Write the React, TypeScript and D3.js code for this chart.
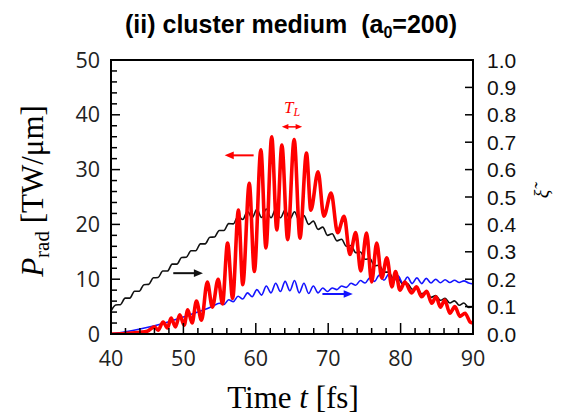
import React from 'react';
import * as d3 from 'd3';

const W = 561;
const H = 414;
const PLOT = { left: 111, right: 473, top: 60, bottom: 334 };

const xTicks = [40, 50, 60, 70, 80, 90];
const xMinorTicks = d3.range(40, 91, 2);
const yLeftTicks = [0, 10, 20, 30, 40, 50];
const yLeftMinorTicks = d3.range(0, 51, 2);
const yRightTicks = [0, 0.1, 0.2, 0.3, 0.4, 0.5, 0.6, 0.7, 0.8, 0.9, 1.0];

// Red: P_rad [TW/um] (left axis)
const redT = [40, 42, 44, 45, 46.0, 46.5, 47.2, 47.8, 48.3, 48.9, 49.5, 50.1, 50.6, 51.2, 51.8, 52.5, 53.3, 54.0, 54.8, 55.4, 56.1, 56.8, 57.6, 58.2, 59.1, 59.8, 60.7, 61.4, 62.2, 62.9, 63.6, 64.4, 65.3, 66.1, 67.0, 67.6, 68.6, 69.4, 70.4, 71.3, 72.2, 73.0, 73.8, 74.5, 75.3, 76.0, 76.7, 77.4, 78.1, 78.8, 79.3, 79.9, 80.6, 81.5, 82.2, 82.9, 83.6, 84.3, 84.9, 85.5, 86.1, 86.8, 87.5, 88.2, 88.9, 89.6, 90];
const redP = [0, 0.1, 0.3, 0.5, 1.3, 0.7, 2.2, 1.1, 2.9, 1.3, 3.5, 1.6, 4.4, 2.0, 6.0, 2.5, 9.5, 4.9, 10.0, 5.5, 16.6, 6.5, 22.6, 9.0, 27.5, 11.4, 33.6, 15.7, 36.0, 19.0, 34.5, 17.2, 35.5, 17.5, 33.0, 22.6, 29.6, 21.5, 25.7, 18.5, 21.5, 14.5, 18.5, 11.5, 18.4, 9.5, 16.6, 10.2, 13.9, 8.6, 11.4, 8.0, 9.5, 7.5, 8.6, 6.8, 7.8, 5.6, 6.8, 4.9, 6.2, 3.8, 5.0, 3.2, 3.8, 2.2, 2.0];

// Black: xi (right axis)
const blackT = [40.00, 40.65, 41.30, 41.95, 42.60, 43.25, 43.90, 44.55, 45.20, 45.85, 46.50, 47.15, 47.80, 48.45, 49.10, 49.75, 50.40, 51.05, 51.70, 52.35, 53.00, 53.65, 54.30, 54.95, 55.60, 56.25, 56.90, 57.55, 58.20, 58.85, 59.50, 60.15, 60.80, 61.45, 62.10, 62.75, 63.40, 64.05, 64.70, 65.35, 66.00, 66.65, 67.30, 67.95, 68.60, 69.25, 69.90, 70.55, 71.20, 71.85, 72.50, 73.15, 73.80, 74.45, 75.10, 75.75, 76.40, 77.05, 77.70, 78.35, 79.00, 79.65, 80.30, 80.95, 81.60, 82.25, 82.90, 83.55, 84.20, 84.85, 85.50, 86.15, 86.80, 87.45, 88.10, 88.75, 89.40, 90.00];
const blackXi = [0.083, 0.106, 0.107, 0.131, 0.131, 0.156, 0.156, 0.180, 0.181, 0.205, 0.206, 0.230, 0.230, 0.255, 0.255, 0.279, 0.280, 0.304, 0.304, 0.329, 0.329, 0.353, 0.354, 0.378, 0.378, 0.403, 0.402, 0.430, 0.418, 0.448, 0.424, 0.455, 0.425, 0.456, 0.424, 0.456, 0.424, 0.452, 0.420, 0.446, 0.414, 0.432, 0.400, 0.412, 0.382, 0.390, 0.360, 0.366, 0.340, 0.346, 0.320, 0.323, 0.297, 0.299, 0.273, 0.275, 0.249, 0.251, 0.226, 0.226, 0.202, 0.203, 0.181, 0.184, 0.163, 0.167, 0.147, 0.152, 0.134, 0.140, 0.123, 0.130, 0.113, 0.121, 0.105, 0.113, 0.097, 0.100];

// Blue: xi (right axis)
const blueT = [40, 42, 44, 46, 48, 50, 52, 53, 54, 54.95, 55.6, 56.25, 56.9, 57.55, 58.2, 58.85, 59.5, 60.15, 60.8, 61.45, 62.1, 62.75, 63.4, 64.05, 64.7, 65.35, 66.0, 66.65, 67.3, 67.95, 68.6, 69.25, 69.9, 70.55, 71.2, 71.85, 72.5, 73.15, 73.8, 74.45, 75.1, 75.75, 76.4, 77.05, 77.7, 78.35, 79.0, 79.65, 80.3, 80.95, 81.6, 82.25, 82.9, 83.55, 84.2, 84.85, 85.5, 86.15, 86.8, 87.45, 88.1, 88.75, 89.4, 90];
const blueXi = [0.0, 0.008, 0.018, 0.03, 0.045, 0.062, 0.08, 0.09, 0.1, 0.112, 0.108, 0.125, 0.118, 0.138, 0.128, 0.150, 0.136, 0.162, 0.142, 0.175, 0.150, 0.185, 0.155, 0.192, 0.158, 0.195, 0.150, 0.185, 0.148, 0.175, 0.150, 0.168, 0.155, 0.168, 0.162, 0.175, 0.170, 0.185, 0.178, 0.195, 0.186, 0.205, 0.192, 0.215, 0.196, 0.218, 0.192, 0.212, 0.186, 0.208, 0.184, 0.205, 0.184, 0.203, 0.186, 0.200, 0.187, 0.198, 0.188, 0.196, 0.188, 0.194, 0.186, 0.183];

export default function App() {
  const x = d3.scaleLinear().domain([40, 90]).range([PLOT.left, PLOT.right]);
  const yL = d3.scaleLinear().domain([0, 50]).range([PLOT.bottom, PLOT.top]);
  const yR = d3.scaleLinear().domain([0, 1]).range([PLOT.bottom, PLOT.top]);

  const lineL = d3.line<number>().x((_, i) => x(redT[i])).y((d) => yL(d)).curve(d3.curveMonotoneX);
  const lineBlack = d3.line<number>().x((_, i) => x(blackT[i])).y((d) => yR(d)).curve(d3.curveMonotoneX);
  const lineBlue = d3.line<number>().x((_, i) => x(blueT[i])).y((d) => yR(d)).curve(d3.curveMonotoneX);

  const tickFont = "'Open Sans', 'DejaVu Sans', sans-serif";
  const rightFont = "'Liberation Sans', Arial, sans-serif";
  const serif = "'Liberation Serif', 'Times New Roman', serif";

  const arrowHead = (x0: number, y0: number, dir: number, color: string, size = 7) => {
    const p = `${x0},${y0} ${x0 - dir * size * 1.3},${y0 - size * 0.55} ${x0 - dir * size * 1.3},${y0 + size * 0.55}`;
    return <polygon points={p} fill={color} />;
  };

  const redArrow = { t0: 59.7, t1: 55.7, p: 32.6 };
  const blackArrow = { t0: 48.6, t1: 52.7, xi: 0.222 };
  const blueArrow = { t0: 69.2, t1: 73.4, xi: 0.146 };
  const tlArrow = { t0: 63.6, t1: 66.4, p: 37.8 };

  return (
    <svg width={W} height={H} style={{ position: 'absolute', left: 0, top: 0, background: '#fff' }}>
      <defs>
        <clipPath id="plotclip">
          <rect x={PLOT.left} y={PLOT.top} width={PLOT.right - PLOT.left} height={PLOT.bottom - PLOT.top} />
        </clipPath>
      </defs>
      <rect width={W} height={H} fill="#fff" />

      <text x={291} y={33} textAnchor="middle" fontFamily={rightFont} fontWeight="bold" fontSize={25} fill="#000">
        (ii) cluster medium{'\u00a0\u00a0'}(a<tspan fontSize={16} dy={5}>0</tspan><tspan dy={-5}>=200)</tspan>
      </text>

      <g clipPath="url(#plotclip)">
        <path d={lineBlack(blackXi) || ''} fill="none" stroke="#111" strokeWidth={1.6} />
        <path d={lineBlue(blueXi) || ''} fill="none" stroke="#1414ff" strokeWidth={1.6} />
        <path d={lineL(redP) || ''} fill="none" stroke="#ff0000" strokeWidth={3.6} strokeLinejoin="round" />
      </g>

      <line x1={x(redArrow.t0)} x2={x(redArrow.t1) + 6} y1={yL(redArrow.p)} y2={yL(redArrow.p)} stroke="#ff0000" strokeWidth={2} />
      {arrowHead(x(redArrow.t1), yL(redArrow.p), -1, '#ff0000')}
      <line x1={x(blackArrow.t0)} x2={x(blackArrow.t1) - 6} y1={yR(blackArrow.xi)} y2={yR(blackArrow.xi)} stroke="#111" strokeWidth={2} />
      {arrowHead(x(blackArrow.t1), yR(blackArrow.xi), 1, '#111')}
      <line x1={x(blueArrow.t0)} x2={x(blueArrow.t1) - 6} y1={yR(blueArrow.xi)} y2={yR(blueArrow.xi)} stroke="#1414ff" strokeWidth={2} />
      {arrowHead(x(blueArrow.t1), yR(blueArrow.xi), 1, '#1414ff')}
      <line x1={x(tlArrow.t0) + 4} x2={x(tlArrow.t1) - 4} y1={yL(tlArrow.p)} y2={yL(tlArrow.p)} stroke="#ff0000" strokeWidth={1.5} />
      {arrowHead(x(tlArrow.t0), yL(tlArrow.p), -1, '#ff0000', 5)}
      {arrowHead(x(tlArrow.t1), yL(tlArrow.p), 1, '#ff0000', 5)}
      <text x={x(65.0)} y={yL(40.3)} textAnchor="middle" fontFamily={serif} fontStyle="italic" fontSize={17} fill="#ff0000">
        T<tspan fontSize={12} dy={3}>L</tspan>
      </text>

      <rect x={PLOT.left} y={PLOT.top} width={PLOT.right - PLOT.left} height={PLOT.bottom - PLOT.top} fill="none" stroke="#000" strokeWidth={2} />

      {yLeftMinorTicks.map((v) => (
        <line key={'ylm' + v} x1={PLOT.left} x2={PLOT.left + (v % 10 === 0 ? 9 : 6)} y1={yL(v)} y2={yL(v)} stroke="#000" strokeWidth={1.5} />
      ))}
      {yLeftTicks.map((v) => (
        <text key={'yl' + v} x={100} y={yL(v) + 7.5} textAnchor="end" fontFamily={tickFont} fontSize={21.5} fill="#222">
          {v}
        </text>
      ))}

      {yRightTicks.map((v) => (
        <g key={'yr' + v}>
          <line x1={PLOT.right} x2={PLOT.right - 8} y1={yR(v)} y2={yR(v)} stroke="#000" strokeWidth={1.5} />
          <text x={487} y={yR(v) + 7.5} textAnchor="start" fontFamily={rightFont} fontSize={21} fill="#111">
            {v.toFixed(1)}
          </text>
        </g>
      ))}

      {xMinorTicks.map((v) => (
        <line key={'xm' + v} x1={x(v)} x2={x(v)} y1={PLOT.bottom} y2={PLOT.bottom - (v % 10 === 0 ? 11 : 6)} stroke="#000" strokeWidth={1.5} />
      ))}
      {xTicks.map((v) => (
        <text key={'xt' + v} x={x(v)} y={366} textAnchor="middle" fontFamily={tickFont} fontSize={21.5} fill="#222">
          {v}
        </text>
      ))}

      <text x={293} y={408} textAnchor="middle" fontFamily={serif} fontSize={31} fill="#000">
        Time <tspan fontStyle="italic">t</tspan> [fs]
      </text>
      <text transform={`translate(43,191) rotate(-90)`} textAnchor="middle" fontFamily={serif} fontSize={31} fill="#000">
        <tspan fontStyle="italic">P</tspan>
        <tspan fontSize={21} dy={6}>rad</tspan>
        <tspan dy={-6}> [TW/μm]</tspan>
      </text>
      <text transform={`translate(549,194) rotate(-90)`} textAnchor="middle" fontFamily={serif} fontStyle="italic" fontSize={20} fill="#000">
        ξ̃
      </text>
    </svg>
  );
}
